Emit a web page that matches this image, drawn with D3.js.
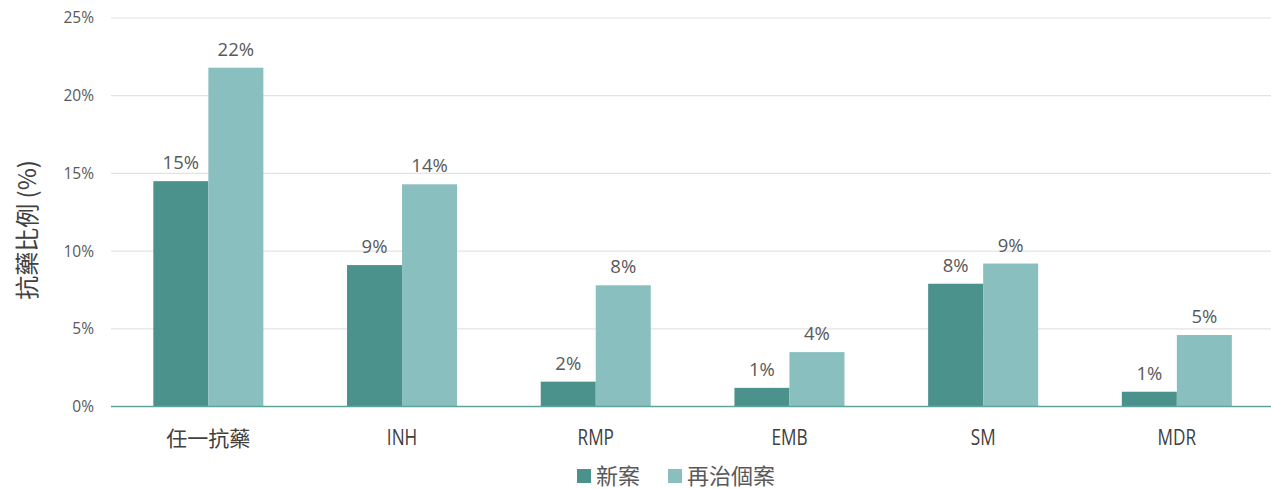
<!DOCTYPE html>
<html>
<head>
<meta charset="utf-8">
<script src="https://cdn.jsdelivr.net/npm/d3@7/dist/d3.min.js"></script>
<style>
  html, body { margin: 0; padding: 0; background: #ffffff; }
  svg { display: block; }
</style>
</head>
<body>
<svg id="chart" width="1271" height="489"></svg>
<script>
// Drug-resistance rates by drug, new cases vs. retreatment cases (%)
const categories = ["任一抗藥", "INH", "RMP", "EMB", "SM", "MDR"];
const seriesNames = ["新案", "再治個案"];
const newCases = [14.5, 9.1, 1.6, 1.2, 7.9, 0.95];
const retreatCases = [21.8, 14.3, 7.8, 3.5, 9.2, 4.6];
const yTicks = [0, 5, 10, 15, 20, 25];
const colors = ["#4b918c", "#8abfc0"];

const svg = d3.select("#chart");
const latin = "'Open Sans', 'Noto Sans', sans-serif";
const cjk = "'Noto Sans CJK TC', 'Noto Sans', sans-serif";

const x = d3.scaleBand().domain(categories).range([111.5, 1273.7]).paddingInner(0.432).paddingOuter(0.216);
const x1 = d3.scaleBand().domain(seriesNames).range([0, x.bandwidth()]);
const y = d3.scaleLinear().domain([0, 25]).range([406.5, 18]);

// gridlines
svg.append("g")
  .selectAll("line")
  .data(yTicks.filter(d => d > 0))
  .join("line")
  .attr("x1", 111).attr("x2", 1271)
  .attr("y1", d => y(d)).attr("y2", d => y(d))
  .attr("stroke", "#e3e3e3").attr("stroke-width", 1.2);

// y axis tick labels
const yAxis = d3.axisLeft(y).tickValues(yTicks).tickFormat(d => d + "%").tickSize(0).tickPadding(0);
const yg = svg.append("g").attr("transform", "translate(94,0)").call(yAxis);
yg.select(".domain").remove();
yg.selectAll("text").attr("fill", "#595959").style("font-family", latin).style("font-size", "15.5px");

// y axis title
svg.append("text")
  .attr("transform", "translate(36,230) rotate(-90)")
  .attr("text-anchor", "middle")
  .attr("fill", "#404040")
  .style("font-family", cjk)
  .style("font-size", "24px")
  .text("抗藥比例 (%)");

const rows = categories.map((c, i) => ({ cat: c, vals: [newCases[i], retreatCases[i]] }));

const groups = svg.append("g").selectAll("g")
  .data(rows)
  .join("g")
  .attr("transform", d => `translate(${x(d.cat)},0)`);

groups.selectAll("rect")
  .data(d => d.vals.map((v, k) => ({ name: seriesNames[k], v, k })))
  .join("rect")
  .attr("x", d => x1(d.name))
  .attr("y", d => y(d.v))
  .attr("width", x1.bandwidth())
  .attr("height", d => y(0) - y(d.v))
  .attr("fill", d => colors[d.k]);

groups.selectAll("text.val")
  .data(d => d.vals.map((v, k) => ({ name: seriesNames[k], v, k })))
  .join("text")
  .attr("class", "val")
  .attr("x", d => x1(d.name) + x1.bandwidth() / 2)
  .attr("y", d => y(d.v) - 12)
  .attr("text-anchor", "middle")
  .attr("fill", "#595959")
  .style("font-family", latin)
  .style("font-size", "18.5px")
  .text(d => Math.round(d.v) + "%");

// baseline axis
svg.append("line")
  .attr("x1", 111).attr("x2", 1271)
  .attr("y1", y(0)).attr("y2", y(0))
  .attr("stroke", "#5fa59d").attr("stroke-width", 1.5);

// x axis labels (Latin names drawn slightly condensed)
const xAxis = d3.axisBottom(x).tickSize(0).tickPadding(0);
const xg = svg.append("g").attr("transform", `translate(0,${y(0)})`).call(xAxis);
xg.select(".domain").remove();
xg.selectAll("text")
  .attr("dy", 0).attr("y", 39)
  .attr("fill", "#404040")
  .attr("transform", (d, i) => i === 0 ? null : "scale(0.8,1)")
  .style("font-family", (d, i) => i === 0 ? cjk : latin)
  .style("font-size", (d, i) => i === 0 ? "21px" : "21.5px");

// legend
const legend = svg.append("g").attr("transform", "translate(577,476)");
const lx = [0, 91];
seriesNames.forEach((n, i) => {
  const g = legend.append("g").attr("transform", `translate(${lx[i]},0)`);
  g.append("rect").attr("x", 0).attr("y", -7).attr("width", 14).attr("height", 14).attr("fill", colors[i]);
  g.append("text").attr("x", 19).attr("y", 0).attr("dy", "0.35em")
    .attr("fill", "#595959")
    .style("font-family", cjk).style("font-size", "22px")
    .text(n);
});
</script>
</body>
</html>
